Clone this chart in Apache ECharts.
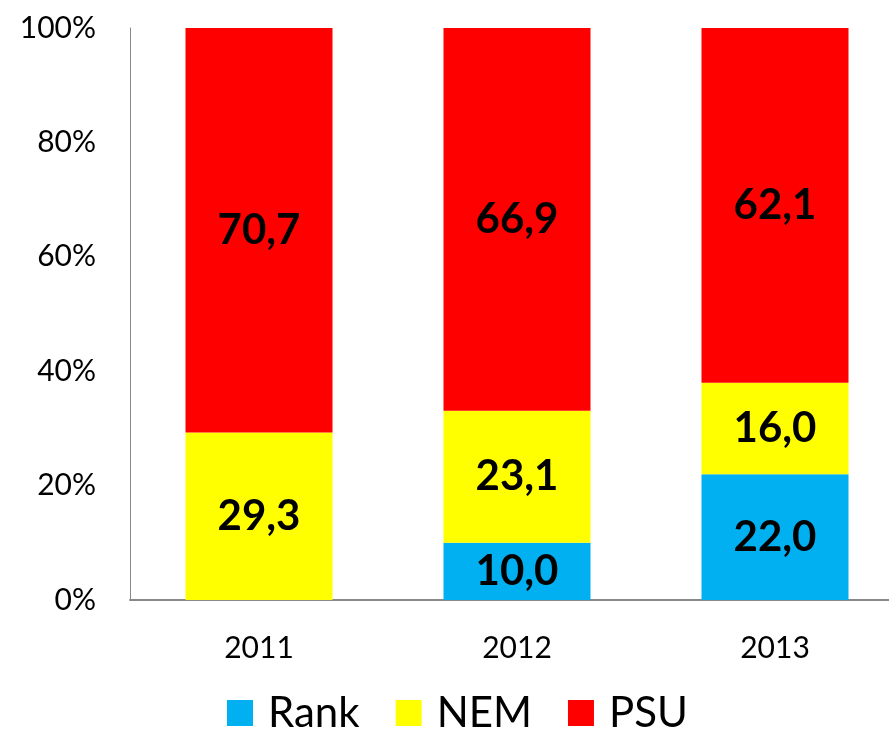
<!DOCTYPE html>
<html>
<head>
<meta charset="utf-8">
<script src="https://cdn.jsdelivr.net/npm/echarts@6/dist/echarts.min.js"></script>
<style>
  html, body { margin: 0; padding: 0; background: #fff; }
  #main { width: 889px; height: 734px; }
</style>
</head>
<body>
<div id="main"></div>
<script>
// data
var years = ['2011', '2012', '2013'];
var rank = [0, 10.0, 22.0];
var nem = [29.3, 23.1, 16.0];
var psu = [70.7, 66.9, 62.1];

var font = 'Lato';
var chart = echarts.init(document.getElementById('main'));

function fmt(p) {
  if (!p.value) return '';
  return p.value.toFixed(1).replace('.', ',');
}

var label = {
  show: true,
  position: 'inside',
  formatter: fmt,
  color: '#000',
  fontFamily: font,
  fontWeight: 'bold',
  fontSize: 42
};

chart.setOption({
  animation: false,
  textStyle: { fontFamily: font },
  // plot runs a bit past the right edge in the original
  grid: { left: 130, width: 774, top: 28, bottom: 134, outerBoundsMode: 'none', containLabel: false },
  legend: {
    top: 692,
    left: 227,
    padding: 0,
    itemWidth: 26,
    itemHeight: 26,
    itemGap: 36,
    icon: 'rect',
    textStyle: { fontSize: 42, color: '#000', fontFamily: font, padding: [0, 0, 0, 10] },
    data: ['Rank', 'NEM', 'PSU']
  },
  xAxis: {
    type: 'category',
    data: years,
    axisLine: { lineStyle: { color: '#888', width: 2 } },
    axisTick: { show: false },
    axisLabel: { fontSize: 30, color: '#000', margin: 33 }
  },
  yAxis: {
    type: 'value',
    min: 0,
    max: 100,
    interval: 20,
    axisLine: { show: true, lineStyle: { color: '#888', width: 1 } },
    axisTick: { show: false },
    splitLine: { show: false },
    axisLabel: { formatter: '{value}%', fontSize: 30, color: '#000', margin: 34 }
  },
  series: [
    { name: 'Rank', type: 'bar', stack: 's', data: rank, barWidth: 147, itemStyle: { color: '#00B0F0' }, label: label },
    { name: 'NEM', type: 'bar', stack: 's', data: nem, barWidth: 147, itemStyle: { color: '#FFFF00' }, label: label },
    { name: 'PSU', type: 'bar', stack: 's', data: psu, barWidth: 147, itemStyle: { color: '#FF0000' }, label: label }
  ]
});
</script>
</body>
</html>
